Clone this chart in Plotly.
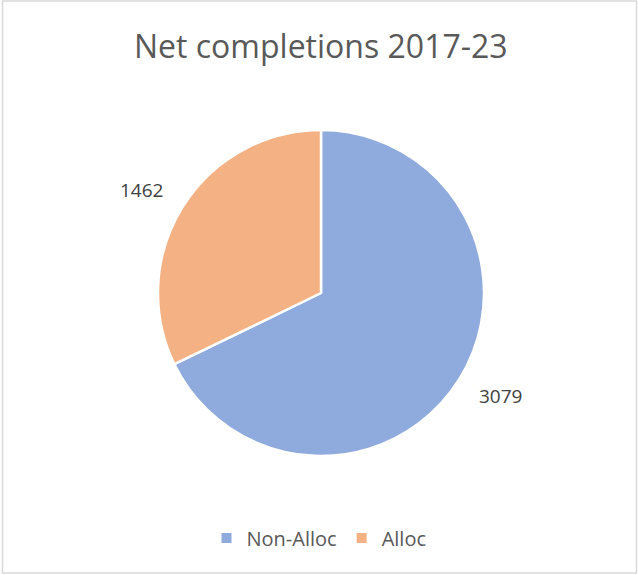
import math
import plotly.graph_objects as go

labels = ["Non-Alloc", "Alloc"]
values = [3079, 1462]
colors = ["#8FAADC", "#F4B183"]
title_text = "Net completions 2017-23"

W, H = 638, 575
cx, cy, r = 321, 293, 163  # pixel layout of the pie

fig = go.Figure(go.Pie(
    labels=labels, values=values, sort=False, direction="clockwise", rotation=0,
    marker=dict(colors=colors, line=dict(color="white", width=2.5)),
    textinfo="none", hoverinfo="label+value",
    domain=dict(x=[(cx - r) / W, (cx + r) / W], y=[(H - cy - r) / H, (H - cy + r) / H]),
))

# data labels placed outside the slices at their mid-angles
annotations = []
total = sum(values)
cum = 0
for v in values:
    mid = (cum + v / 2) / total * 2 * math.pi
    cum += v
    px = cx + r * 1.30 * math.sin(mid)
    py = cy - r * 1.19 * math.cos(mid)
    annotations.append(dict(x=px / W, y=1 - py / H, xref="paper", yref="paper",
                            xanchor="center", yanchor="middle",
                            text=str(v), showarrow=False,
                            font=dict(size=19, color="#404040", family="Open Sans")))
annotations.append(dict(x=321 / W, y=1 - 46 / H, xref="paper", yref="paper", text=title_text,
                        xanchor="center", yanchor="middle",
                        showarrow=False, font=dict(size=32, color="#595959", family="Open Sans")))
fig.update_layout(
    width=W, height=H, margin=dict(l=0, r=0, t=0, b=0),
    paper_bgcolor="white", plot_bgcolor="white",
    annotations=annotations,
    showlegend=True,
    legend=dict(orientation="h", x=0.5, xanchor="center", y=1 - 538 / H, yanchor="middle",
                font=dict(size=20, color="#595959", family="Open Sans"), itemsizing="constant"),
    shapes=[dict(type="rect", xref="paper", yref="paper", x0=2.5 / W, x1=636.5 / W,
                 y0=1 - 573 / H, y1=1 - 1 / H, line=dict(color="#D9D9D9", width=1.5))],
)
fig.write_html("out.html")
